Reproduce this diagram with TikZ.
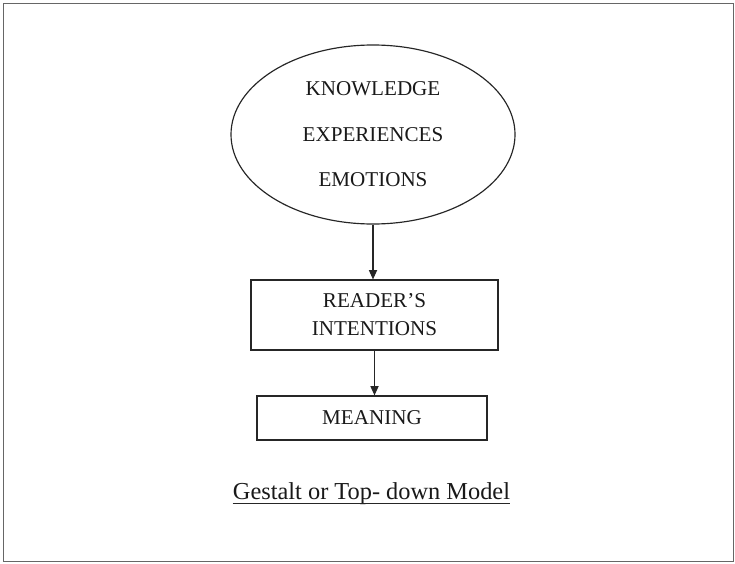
\documentclass[tikz,border=0pt]{standalone}
\usepackage{fontspec}
\setmainfont{Liberation Serif}
\usetikzlibrary{arrows.meta,shapes.geometric}
\begin{document}
\begin{tikzpicture}[x=0.03cm,y=-0.03cm,
  ink/.style={draw=black!85, line width=1pt},
  oval/.style={ink, ellipse, inner sep=0pt, minimum width=8.52cm, minimum height=5.37cm,
    align=center, font=\fontsize{18}{38.8}\selectfont, text=black!90},
  stepbox/.style={ink, rectangle, inner sep=0pt, align=center,
    font=\fontsize{18}{23.9}\selectfont, text=black!90},
  conn/.style={draw=black!85, line width=0.9pt, -{Triangle[length=8pt,width=7pt]}},
  caption/.style={inner sep=0pt, font=\fontsize{20.8}{24}\selectfont, text=black!90}
]
  \useasboundingbox (0,0) rectangle (735,563);
  % outer frame
  \draw[draw=black!60, line width=1.2pt] (3.5,3.5) rectangle (733.5,561.5);

  % top-down stages
  \node[oval] (kee) at (373,134.5) {KNOWLEDGE\\EXPERIENCES\\EMOTIONS};
  \node[stepbox, minimum width=7.41cm, minimum height=2.1cm] (rdr) at (374.5,315)
    {READER’S\\INTENTIONS};
  \node[stepbox, minimum width=6.9cm, minimum height=1.32cm] (mng) at (372,418) {MEANING};

  % flow
  \draw[conn] (kee.south) -- (kee.south |- rdr.north);
  \draw[conn] (rdr.south) -- (rdr.south |- mng.north);

  % title with underline
  \node[caption, anchor=base] (cap) at (371.5,499) {Gestalt or Top- down Model};
  \coordinate (ul) at ([yshift=-4*0.03cm]cap.base west);
  \coordinate (ur) at ([yshift=-4*0.03cm]cap.base east);
  \draw[draw=black!85, line width=0.8pt] (ul) -- (ur);
\end{tikzpicture}
\end{document}
